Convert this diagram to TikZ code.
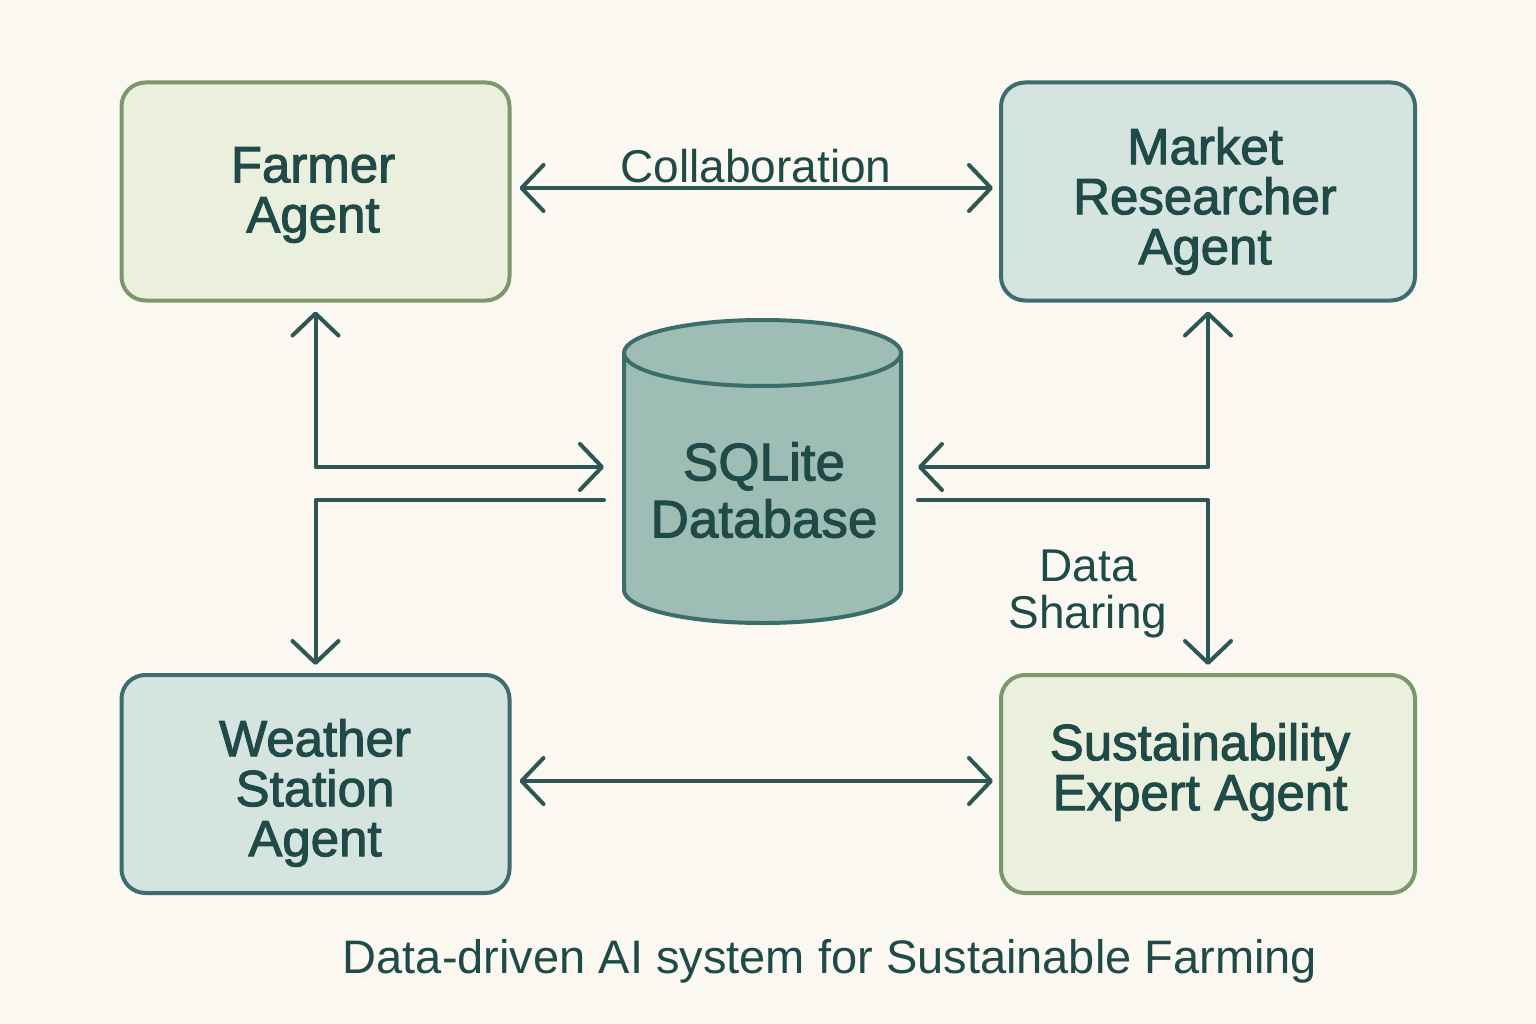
\documentclass[tikz,border=0pt]{standalone}
\usepackage{fontspec}
\setmainfont{Liberation Sans}
\newfontfamily\boxfont{Liberation Sans}[FakeBold=2]
\usetikzlibrary{arrows.meta}
\definecolor{bgc}{HTML}{FAF8F1}
\definecolor{greenfill}{HTML}{EBEFDE}
\definecolor{greenline}{HTML}{7D966E}
\definecolor{bluefill}{HTML}{D6E4E0}
\definecolor{blueline}{HTML}{3F6C6D}
\definecolor{dbfill}{HTML}{9EBDB5}
\definecolor{dbline}{HTML}{3D6D68}
\definecolor{txt}{HTML}{1F4A47}
\definecolor{arrc}{HTML}{2D5654}
\tikzset{
  agentbox/.style={rounded corners=24pt, line width=4pt, minimum height=218pt},
  greenbox/.style={agentbox, draw=greenline, fill=greenfill},
  bluebox/.style={agentbox, draw=blueline, fill=bluefill},
  boxtext/.style={text=txt, align=center, font=\boxfont\fontsize{51}{50}\selectfont},
  arr/.style={draw=arrc, line width=4pt, line cap=round, line join=round,
    arrows={Straight Barb[length=22pt,width=46pt,line width=4pt,round]-Straight Barb[length=22pt,width=46pt,line width=4pt,round]}},
  arrone/.style={draw=arrc, line width=4pt, line cap=round, line join=round,
    arrows={-Straight Barb[length=22pt,width=46pt,line width=4pt,round]}},
  lbl/.style={text=txt, align=center, font=\fontsize{46}{47}\selectfont}
}
\begin{document}
\begin{tikzpicture}[x=1pt,y=-1pt]
\useasboundingbox (0,0) rectangle (1536,1024);
\fill[bgc] (0,0) rectangle (1536,1024);

\node[greenbox, minimum width=388pt] (far) at (315.5,191.5) {};
\node[boxtext] (farl) at (313,195) {Farmer\\Agent};
\node[bluebox, minimum width=414pt] (mkt) at (1208,191.5) {};
\node[boxtext] (mktl) at (1205,201) {Market\\Researcher\\Agent};
\node[bluebox, minimum width=388pt] (wea) at (315.5,784) {};
\node[boxtext] (weal) at (315,793) {Weather\\Station\\Agent};
\node[greenbox, minimum width=414pt] (sus) at (1208,784) {};
\node[boxtext] (susl) at (1200,772) {Sustainability\\Expert Agent};

% database cylinder
\draw[fill=dbfill, draw=dbline, line width=4pt]
  (624,353) -- (624,590) arc[start angle=180, end angle=360, x radius=138.5pt, y radius=33pt]
  -- (901,353) -- cycle;
\draw[fill=dbfill, draw=dbline, line width=4pt] (762.5,353) ellipse[x radius=138.5pt, y radius=33pt];
\node[minimum width=277pt, minimum height=303pt, inner sep=0pt, align=center, text=txt,
  font=\boxfont\fontsize{53}{57}\selectfont] (db) at (764,490) {SQLite\\Database};

\coordinate (dbinL) at (604,467);
\coordinate (dboutL) at (604,500);
\coordinate (dbinR) at (918,467);
\coordinate (dboutR) at (918,500);

% connectors
\draw[arr, shorten <=8pt, shorten >=6pt] ([yshift=3.5pt]far.east) -- ([yshift=3.5pt]mkt.west);
\node[lbl] (collab) at (756,166) {Collaboration};
\draw[arr, shorten <=9pt] (far.south) |- (dbinL);
\draw[arrone, shorten >=8pt] (dboutL) -| (wea.north);
\draw[arr, shorten <=9pt] (mkt.south) |- (dbinR);
\draw[arrone, shorten >=8pt] (dboutR) -| (sus.north);
\node[lbl] (share) at (1088,594) {Data\\Sharing};
\draw[arr, shorten <=8pt, shorten >=6pt] ([yshift=3pt]wea.east) -- ([yshift=3pt]sus.west);

\node[text=txt, font=\fontsize{47}{50}\selectfont] (cap) at (830,961) {Data-driven AI system for Sustainable Farming};
\end{tikzpicture}
\end{document}
